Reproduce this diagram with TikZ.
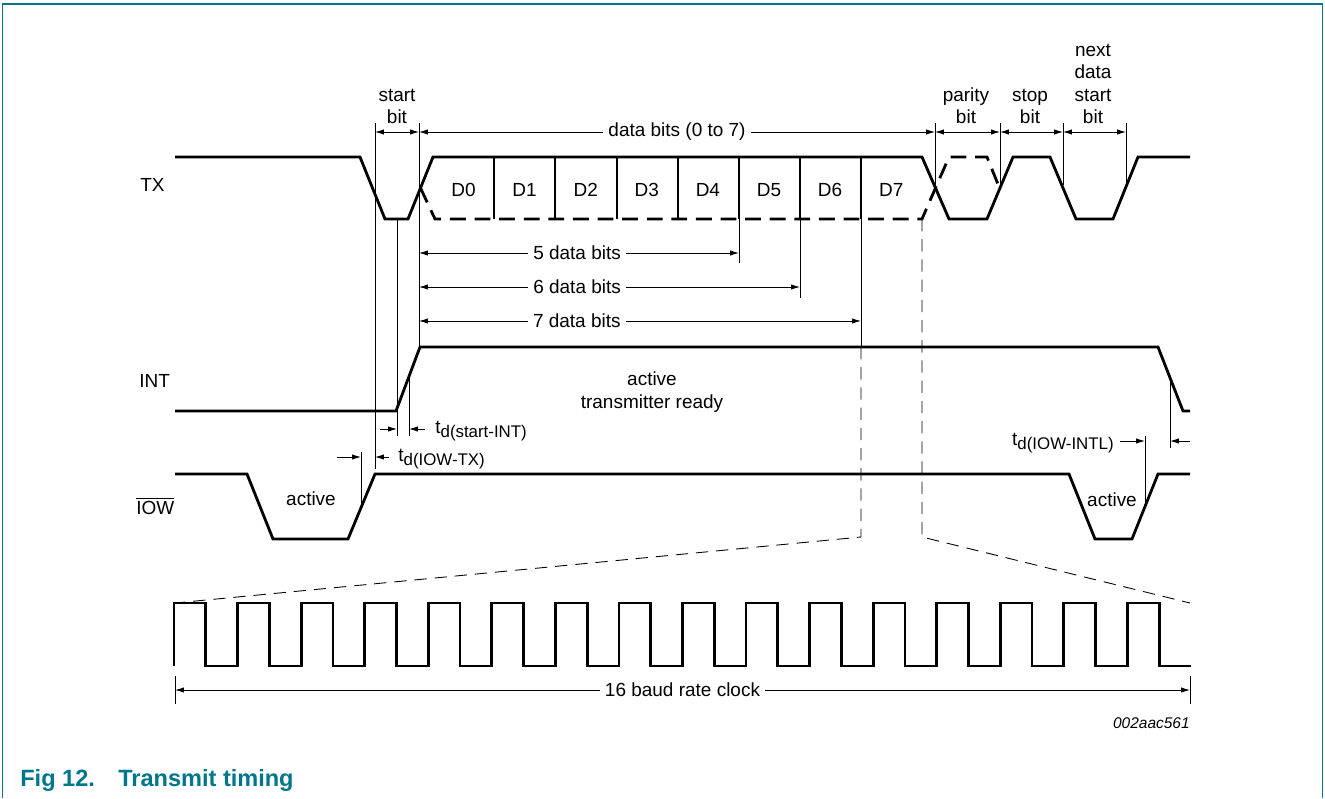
\documentclass[tikz,border=0pt]{standalone}
\usepackage{fontspec}
\setmainfont{Liberation Sans}
\usetikzlibrary{arrows.meta, positioning}
\definecolor{nxpteal}{RGB}{0,118,138}
\newcommand{\tdel}[1]{t\raisebox{-0.45ex}{\fontsize{9.6}{10}\selectfont d(#1)}}

\begin{document}
\begin{tikzpicture}[x=0.02cm, y=-0.02cm, >={Latex[length=5pt,width=3pt]},
        font=\fontsize{10.8}{12.8}\selectfont,
        wave/.style={line width=1.6pt, line join=miter},
        wavedash/.style={wave, dash pattern=on 9pt off 5pt},
        guide/.style={line width=0.5pt},
        zoomline/.style={line width=0.5pt, dash pattern=on 7pt off 4.5pt},
        dim/.style={<->, line width=0.5pt},
        gap/.style={fill=white, inner sep=3pt},
        signame/.style={anchor=west, inner sep=0pt}]

  \useasboundingbox (0,0) rectangle (1325,798);

  % Frame and caption
  \draw[nxpteal, line width=0.8pt] (2.5,798) -- (2.5,4) -- (1322.5,4) -- (1322.5,798);
  \node[anchor=base west, inner sep=0pt, text=nxpteal, font=\fontsize{13.4}{16}\selectfont\bfseries] (fignum) at (20,786) {Fig 12.};
  \node[anchor=base west, inner sep=0pt, text=nxpteal, font=\fontsize{13.4}{16}\selectfont\bfseries] (figtitle) at (118,786) {Transmit timing};
  \node[anchor=east, inner sep=0pt, font=\fontsize{8.8}{11}\selectfont\itshape] (figid) at (1190,723) {002aac561};

  % Signal names
  \node[signame] (txName) at (140,185) {TX};
  \node[signame] (intName) at (139,381) {INT};
  \node[signame] (iowName) at (136,506) {$\overline{\mbox{IOW}}$};

  % TX waveform
  \draw[wave] (175,157) -- (360,157) -- (385,219) -- (408,219) -- (433,157) -- (922,157)
    -- (949,219) -- (987,219) -- (1013,157) -- (1050,157) -- (1076,219) -- (1113,219)
    -- (1138,157) -- (1190,157);
  \draw[wavedash] (420.5,188) -- (435,219) -- (922,219) -- (949,157) -- (987,157) -- (999.5,188);
  \foreach \bx in {494,555,617,678,739,800,861}
    \draw[wave] (\bx,157) -- (\bx,219);
  \foreach \lbl [count=\i from 0] in {D0,D1,D2,D3,D4,D5,D6,D7}
    \node (bit\i) at ({463.5+61.1*\i},190) {\lbl};

  % INT waveform
  \draw[wave] (175,411) -- (396,411) -- (420,347) -- (1158,347) -- (1183,411) -- (1190,411);
  \node[align=center] (intActive) at (652,392) {active\\transmitter ready};

  % IOW waveform
  \draw[wave] (175,474) -- (247,474) -- (273,539) -- (348,539) -- (375,474) -- (1069,474)
    -- (1095,539) -- (1132,539) -- (1158,474) -- (1190,474);
  \node (iowActA) at (311,499) {active};
  \node (iowActB) at (1112,500) {active};

  % Extension lines
  \coordinate (eStart) at (375,123);
  \coordinate (eData) at (419,123);
  \coordinate (eParity) at (935,123);
  \coordinate (eStop) at (1000,123);
  \coordinate (eNext) at (1063,123);
  \coordinate (eEnd) at (1126,123);
  \coordinate (eD5) at (739,219);
  \coordinate (eD6) at (800,219);
  \coordinate (eD7) at (861,219);
  \draw[guide] (eStart) -- ++(0,346);
  \draw[guide] (eData) -- ++(0,224);
  \draw[guide] (eParity) -- ++(0,67);
  \draw[guide] (eStop) -- ++(0,64);
  \draw[guide] (eNext) -- ++(0,62);
  \draw[guide] (eEnd) -- ++(0,63);
  \draw[guide] (eD5) -- ++(0,44);
  \draw[guide] (eD6) -- ++(0,79);
  \draw[guide] (eD7) -- ++(0,128);
  \draw[guide] (397,219) -- (397,436);
  \draw[guide] (409,376) -- (409,436);
  \draw[guide] (361,452) -- (361,508);
  \draw[guide] (1145,436) -- (1145,507);
  \draw[guide] (1170,378) -- (1170,448);

  % Bit field dimensions
  \coordinate (rTop) at (0,132);
  \coordinate (r5) at (0,253);
  \coordinate (r6) at (0,287);
  \coordinate (r7) at (0,321);
  \draw[dim] (eStart |- rTop) -- (eData |- rTop);
  \draw[dim] (eData |- rTop) -- node[gap] (dataLbl) {data bits (0 to 7)} (eParity |- rTop);
  \draw[dim] (eParity |- rTop) -- (eStop |- rTop);
  \draw[dim] (eStop |- rTop) -- (eNext |- rTop);
  \draw[dim] (eNext |- rTop) -- (eEnd |- rTop);
  \node[anchor=south, align=center, inner sep=1pt] (startLbl) at (397,126) {start\\bit};
  \node[anchor=south, align=center, inner sep=1pt] (parityLbl) at (966,126) {parity\\bit};
  \node[anchor=south, align=center, inner sep=1pt] (stopLbl) at (1030,126) {stop\\bit};
  \node[anchor=south, align=center, inner sep=1pt] (nextLbl) at (1093,126) {next\\data\\start\\bit};
  \draw[dim] (eData |- r5) -- node[gap, pos=0.494] (fiveLbl) {5 data bits} (eD5 |- r5);
  \draw[dim] (eData |- r6) -- node[gap, pos=0.415] (sixLbl) {6 data bits} (eD6 |- r6);
  \draw[dim] (eData |- r7) -- node[gap, pos=0.357] (sevenLbl) {7 data bits} (eD7 |- r7);

  % Delay markers
  \draw[guide, ->] (380,429) -- (397,429);
  \draw[guide, ->] (425,429) -- (409,429);
  \node[anchor=west, inner sep=0pt] (tdStartInt) at (435,431) {\tdel{start-INT}};
  \draw[guide, ->] (337,457) -- (361,457);
  \draw[guide, ->] (389,457) -- (375,457);
  \node[anchor=west, inner sep=0pt] (tdIowTx) at (398,459) {\tdel{IOW-TX}};
  \draw[guide, ->] (1120,441) -- (1145,441);
  \draw[guide, ->] (1190,441) -- (1170,441);
  \node[anchor=east, inner sep=0pt] (tdIowIntl) at (1114,443) {\tdel{IOW-INTL}};

  % Zoom onto the baud clock
  \draw[zoomline] (861,347) -- (861,537) -- (175,603);
  \draw[zoomline] (922,219) -- (922,537) -- (1190,603);

  % 16 baud rate clock
  \draw[wave] (174,666) \foreach \i in {0,...,15} {
      -- ({174+63.56*\i},603) -- ({205.8+63.56*\i},603)
      -- ({205.8+63.56*\i},666) -- ({237.56+63.56*\i},666) };
  \draw[guide] (175,676) -- (175,704);
  \draw[guide] (1190,676) -- (1190,704);
  \draw[dim] (175,690) -- node[gap] (clkLbl) {16 baud rate clock} (1190,690);

\end{tikzpicture}
\end{document}
